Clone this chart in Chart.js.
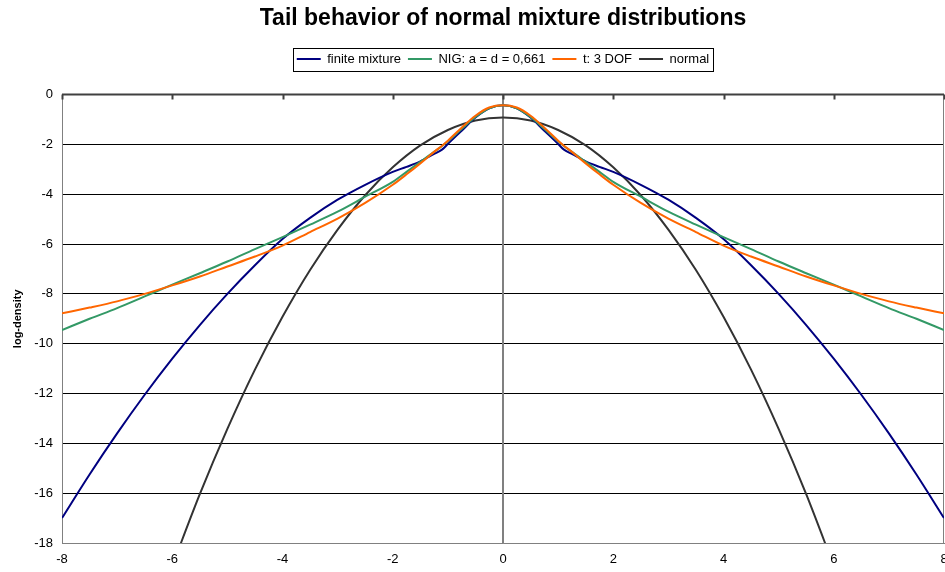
<!DOCTYPE html>
<html>
<head>
<meta charset="utf-8">
<title>Tail behavior of normal mixture distributions</title>
<script src="https://cdn.jsdelivr.net/npm/chart.js@4.4.1/dist/chart.umd.min.js"></script>
<style>
  html, body { margin: 0; padding: 0; background: #fff; overflow: hidden; }
  #wrap { width: 945px; height: 572px; }
</style>
</head>
<body>
<div id="wrap"><canvas id="tailChart" width="945" height="572"></canvas></div>
<script>
// x positions shared by the mixture, NIG and t curves
const xValues = [-8, -7.5, -7, -6.5, -6, -5.5, -5, -4.5, -4, -3.5, -3, -2.5, -2, -1.75, -1.5, -1.25, -1.1, -1, -0.75, -0.5, -0.25,
    0, 0.25, 0.5, 0.75, 1, 1.1, 1.25, 1.5, 1.75, 2, 2.5, 3, 3.5, 4, 4.5, 5, 5.5, 6, 6.5, 7, 7.5, 8];

// log-density values
const finiteMixture = [-17.0, -15.25, -13.6, -12.05, -10.6, -9.25, -8.0, -6.85, -5.8, -4.95, -4.22, -3.62, -3.1, -2.9, -2.68, -2.38, -2.2, -1.98, -1.45, -0.92, -0.55,
    -0.43, -0.55, -0.92, -1.45, -1.98, -2.2, -2.38, -2.68, -2.9, -3.1, -3.62, -4.22, -4.95, -5.8, -6.85, -8.0, -9.25, -10.6, -12.05, -13.6, -15.25, -17.0];
const nig = [-9.45, -9.0, -8.57, -8.1, -7.63, -7.17, -6.7, -6.2, -5.72, -5.22, -4.7, -4.1, -3.5, -3.1, -2.7, -2.3, -2.05, -1.87, -1.38, -0.9, -0.55,
    -0.43, -0.55, -0.9, -1.38, -1.87, -2.05, -2.3, -2.7, -3.1, -3.5, -4.1, -4.7, -5.22, -5.72, -6.2, -6.7, -7.17, -7.63, -8.1, -8.57, -9.0, -9.45];
const tDist = [-8.78, -8.55, -8.3, -8.0, -7.66, -7.3, -6.9, -6.5, -6.06, -5.52, -4.98, -4.35, -3.62, -3.2, -2.76, -2.3, -2.04, -1.85, -1.33, -0.85, -0.52,
    -0.43, -0.52, -0.85, -1.33, -1.85, -2.04, -2.3, -2.76, -3.2, -3.62, -4.35, -4.98, -5.52, -6.06, -6.5, -6.9, -7.3, -7.66, -8.0, -8.3, -8.55, -8.78];

const xNormal = [-6, -5.5, -5, -4.5, -4, -3.5, -3, -2.5, -2, -1.5, -1, -0.5, 0, 0.5, 1, 1.5, 2, 2.5, 3, 3.5, 4, 4.5, 5, 5.5, 6];
const normal = [-18.92, -16.04, -13.42, -11.04, -8.92, -7.04, -5.42, -4.04, -2.92, -2.04, -1.42, -1.04, -0.92,
    -1.04, -1.42, -2.04, -2.92, -4.04, -5.42, -7.04, -8.92, -11.04, -13.42, -16.04, -18.92];

const seriesLabels = ["finite mixture", "NIG: a = d = 0,661", "t: 3 DOF", "normal"];
const seriesColors = ["#000080", "#339966", "#FF6600", "#333333"];

function toPoints(xs, ys) {
    return xs.map((x, i) => ({ x: x, y: ys[i] }));
}

Chart.defaults.font.family = '"Liberation Sans", Arial, sans-serif';
Chart.defaults.color = "#000";

// extra lines Excel draws: x axis along y = 0 (with tick marks), value axis at x = 0, right border
const axisLines = {
    id: "axisLines",
    beforeDatasetsDraw(chart) {
        const ctx = chart.ctx;
        const area = chart.chartArea;
        const xs = chart.scales.x;
        const ys = chart.scales.y;
        ctx.save();
        // right border
        ctx.strokeStyle = "#808080";
        ctx.lineWidth = 1;
        ctx.beginPath();
        ctx.moveTo(area.right - 0.5, area.top);
        ctx.lineTo(area.right - 0.5, area.bottom);
        ctx.stroke();
        // vertical axis at x = 0
        const x0 = xs.getPixelForValue(0);
        ctx.strokeStyle = "#808080";
        ctx.lineWidth = 2;
        ctx.beginPath();
        ctx.moveTo(x0, area.top);
        ctx.lineTo(x0, area.bottom);
        ctx.stroke();
        // horizontal axis at y = 0 with ticks
        const y0 = ys.getPixelForValue(0);
        ctx.strokeStyle = "#404040";
        ctx.lineWidth = 2;
        ctx.beginPath();
        ctx.moveTo(area.left, y0);
        ctx.lineTo(area.right, y0);
        xs.ticks.forEach(t => {
            const px = Math.round(xs.getPixelForValue(t.value)) + 0.5;
            ctx.moveTo(px, y0);
            ctx.lineTo(px, y0 + 5);
        });
        ctx.stroke();
        ctx.restore();
    }
};

// border round the legend
const legendBox = {
    id: "legendBox",
    afterDraw(chart) {
        const boxes = chart.legend && chart.legend.legendHitBoxes;
        if (!boxes || !boxes.length) return;
        let left = Infinity, right = -Infinity, top = Infinity, bottom = -Infinity;
        boxes.forEach(b => {
            left = Math.min(left, b.left);
            right = Math.max(right, b.left + b.width);
            top = Math.min(top, b.top);
            bottom = Math.max(bottom, b.top + b.height);
        });
        const ctx = chart.ctx;
        ctx.save();
        ctx.strokeStyle = "#000";
        ctx.lineWidth = 1;
        ctx.strokeRect(Math.round(left - 4) + 0.5, Math.round(top - 5) + 0.5,
            Math.round(right - left + 7), Math.round(bottom - top + 10));
        ctx.restore();
    }
};

const datasets = [
    { data: toPoints(xValues, finiteMixture) },
    { data: toPoints(xValues, nig) },
    { data: toPoints(xValues, tDist) },
    { data: toPoints(xNormal, normal) }
].map((ds, i) => Object.assign(ds, {
    label: seriesLabels[i],
    borderColor: seriesColors[i],
    backgroundColor: seriesColors[i],
    borderWidth: 2,
    pointRadius: 0,
    fill: false,
    cubicInterpolationMode: "monotone",
    order: [3, 2, 1, 4][i]
}));

new Chart(document.getElementById("tailChart"), {
    type: "line",
    data: { datasets: datasets },
    plugins: [axisLines, legendBox],
    options: {
        responsive: false,
        animation: false,
        events: [],
        layout: { padding: 0 },
        plugins: {
            title: {
                display: true,
                text: "Tail behavior of normal mixture distributions",
                fullSize: false,
                font: { size: 23, weight: "bold" },
                color: "#000",
                padding: { top: 5, bottom: 13 }
            },
            legend: {
                display: true,
                fullSize: false,
                weight: 1800,
                labels: {
                    usePointStyle: true,
                    pointStyle: "line",
                    pointStyleWidth: 24,
                    padding: 7,
                    color: "#000",
                    font: { size: 13 },
                    sort: (a, b) => a.datasetIndex - b.datasetIndex
                }
            },
            // empty spacer between the legend and the plot area
            subtitle: {
                display: true,
                text: "",
                fullSize: false,
                weight: 500,
                font: { size: 10 },
                padding: { top: 0, bottom: 7 }
            },
            tooltip: { enabled: false }
        },
        scales: {
            x: {
                type: "linear",
                min: -8,
                max: 8,
                ticks: { stepSize: 2, padding: 9, font: { size: 13 }, color: "#000" },
                grid: { display: false, drawTicks: false },
                border: { display: true, color: "#808080", width: 1 },
                afterFit: s => { s.height = 29; s.paddingRight = 1; }
            },
            y: {
                min: -18,
                max: 0,
                ticks: { stepSize: 2, padding: 9, font: { size: 13 }, color: "#000" },
                grid: {
                    drawTicks: false,
                    color: ctx => (ctx.tick && ctx.tick.value === -18 ? "#808080" : "#000"),
                    lineWidth: 1
                },
                border: { display: true, color: "#808080", width: 1 },
                title: {
                    display: true,
                    text: "log-density",
                    font: { size: 11, weight: "bold" },
                    color: "#000",
                    padding: { top: 11, bottom: 0 }
                },
                afterFit: s => { s.width = 62; }
            }
        }
    }
});
</script>
</body>
</html>
